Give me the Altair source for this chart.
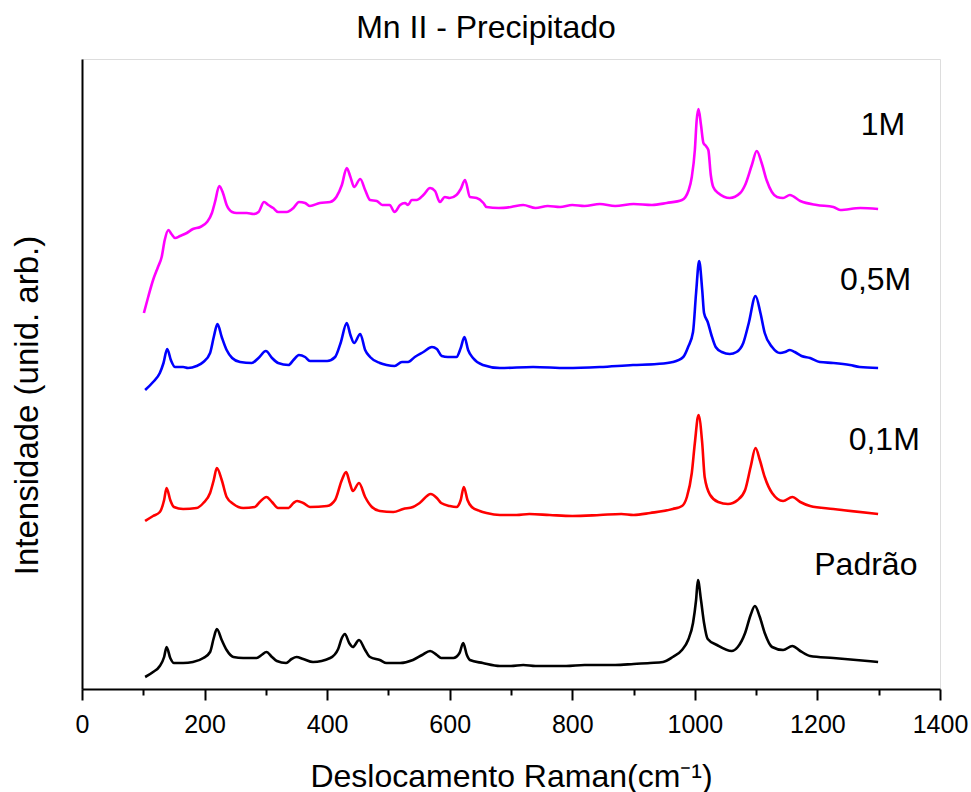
import altair as alt
import pandas as pd

# ---- data (Raman shift in cm-1, intensity in arbitrary units) ----
padrao_x = [103, 116, 127, 134, 138, 144, 150, 165, 181, 198, 209, 215, 220, 228, 236, 247, 263, 285, 293, 301,
            310, 318, 333, 342, 350, 361, 377, 405, 418, 424, 429, 436, 442, 452, 462, 470, 486, 497, 519, 540,
            555, 568, 579, 586, 606, 616, 622, 628, 633, 654, 682, 700, 720, 740, 763, 790, 820, 845, 870, 900,
            927, 948, 964, 979, 989, 997, 1002, 1005, 1010, 1015, 1021, 1036, 1060, 1070, 1082, 1091, 1098, 1106,
            1114, 1126, 1144, 1159, 1172, 1188, 1226, 1299]
padrao_y = [12, 17, 23, 32, 42, 31, 26, 26, 27, 31, 37, 51, 60, 49, 39, 32, 31, 31, 34, 37,
            32, 28, 26, 30, 32, 30, 27, 31, 40, 51, 55, 46, 42, 49, 39, 32, 29, 26, 26, 29,
            34, 38, 34, 31, 31, 36, 46, 34, 29, 26, 23, 23, 24, 23, 23, 23, 24, 24, 24, 25,
            26, 27, 32, 39, 49, 66, 89, 109, 89, 66, 50, 44, 38, 42, 56, 74, 83, 72,
            56, 42, 39, 43, 38, 33, 31, 27]

m01_x = [103, 116, 127, 134, 138, 144, 150, 165, 187, 198, 209, 215, 220, 228, 236, 247, 263, 282, 290, 301,
         310, 320, 337, 345, 351, 361, 372, 400, 413, 424, 431, 437, 442, 452, 462, 473, 486, 508, 524, 540,
         551, 569, 579, 586, 600, 611, 618, 623, 629, 636, 649, 660, 682, 709, 730, 763, 800, 845, 880, 900,
         927, 964, 979, 987, 995, 1000, 1006, 1012, 1016, 1025, 1038, 1054, 1070, 1082, 1091, 1099, 1106, 1114,
         1126, 1144, 1159, 1172, 1188, 1226, 1299]
m01_y = [168, 173, 177, 189, 201, 189, 182, 180, 181, 186, 196, 209, 221, 209, 192, 185, 181, 182, 187, 192,
         187, 181, 181, 186, 188, 186, 182, 183, 189, 209, 217, 206, 198, 206, 192, 182, 178, 177, 180, 182,
         186, 195, 191, 186, 183, 182, 189, 202, 189, 182, 178, 176, 174, 174, 175, 174, 173, 174, 175, 174,
         176, 180, 183, 192, 216, 246, 274, 246, 212, 194, 187, 185, 189, 199, 222, 241, 229, 212,
         196, 188, 192, 187, 183, 180, 175]

m05_x = [103, 116, 127, 133, 139, 145, 152, 165, 173, 187, 198, 209, 215, 221, 228, 236, 245, 258, 277, 288,
         300, 310, 320, 337, 345, 354, 364, 372, 400, 413, 422, 432, 438, 444, 454, 462, 470, 486, 497, 510,
         522, 532, 543, 557, 571, 579, 587, 597, 611, 618, 624, 630, 638, 654, 682, 736, 791, 845, 899, 938,
         964, 981, 989, 997, 1002, 1007, 1012, 1015, 1021, 1027, 1034, 1044, 1057, 1068, 1079, 1088, 1099, 1107,
         1114, 1126, 1139, 1147, 1155, 1163, 1174, 1188, 1204, 1226, 1253, 1269, 1299]
m05_y = [299, 307, 316, 326, 340, 329, 322, 322, 321, 323, 327, 336, 352, 365, 352, 339, 331, 327, 326, 331,
         338, 331, 326, 324, 329, 334, 332, 328, 328, 332, 346, 366, 354, 346, 355, 339, 332, 326, 324, 323,
         327, 327, 332, 337, 342, 340, 333, 332, 332, 341, 352, 339, 331, 324, 321, 322, 321, 322, 324, 325,
         327, 332, 342, 357, 396, 428, 399, 376, 367, 354, 342, 337, 335, 337, 346, 366, 393, 376,
         356, 342, 336, 337, 339, 337, 333, 331, 327, 326, 324, 322, 321]

m1_x = [101, 108, 116, 124, 130, 135, 141, 146, 152, 160, 171, 181, 193, 204, 212, 217, 224, 230, 236, 245,
        252, 269, 280, 288, 297, 304, 312, 320, 334, 345, 354, 364, 372, 388, 405, 415, 424, 432, 438, 444,
        454, 462, 470, 481, 490, 502, 510, 519, 527, 532, 538, 546, 557, 568, 576, 584, 592, 600, 611, 618,
        625, 633, 644, 655, 660, 680, 700, 720, 740, 760, 780, 800, 820, 845, 870, 900, 930, 954, 979, 990,
        995, 1000, 1003, 1006, 1010, 1014, 1018, 1022, 1026, 1030, 1038, 1057, 1074, 1082, 1093, 1101, 1109, 1117,
        1134, 1144, 1155, 1172, 1199, 1226, 1237, 1270, 1299]
m1_y = [376, 392, 409, 422, 432, 449, 459, 455, 451, 453, 456, 460, 462, 467, 476, 487, 503, 496, 484, 477,
        476, 476, 475, 477, 487, 484, 481, 477, 477, 481, 487, 486, 483, 486, 487, 492, 504, 521, 512, 502,
        510, 499, 489, 488, 484, 484, 477, 484, 486, 484, 489, 489, 494, 501, 498, 487, 492, 491, 494, 500,
        509, 492, 491, 486, 482, 481, 482, 484, 481, 483, 482, 484, 483, 485, 483, 485, 484, 486, 489, 499,
        512, 539, 569, 580, 564, 546, 543, 539, 514, 502, 496, 491, 496, 504, 524, 538, 526, 509,
        492, 491, 494, 488, 484, 482, 479, 481, 480]

series_names = ["Padrão", "0,1M", "0,5M", "1M"]
series_colors = ["#000000", "#FF0000", "#0000FF", "#FF00FF"]

label_text = ["1M", "0,5M", "0,1M", "Padrão"]
label_x = [1307, 1295, 1309, 1279]
label_y = [554, 399, 239, 114]

major_ticks = [0, 200, 400, 600, 800, 1000, 1200, 1400]
minor_ticks = [100, 300, 500, 700, 900, 1100, 1300]

# ---- tables ----
frames = []
for name, xs, ys in [("Padrão", padrao_x, padrao_y), ("0,1M", m01_x, m01_y),
                     ("0,5M", m05_x, m05_y), ("1M", m1_x, m1_y)]:
    frames.append(pd.DataFrame({"x": xs, "y": ys, "serie": name}))
df = pd.concat(frames, ignore_index=True)
df_lab = pd.DataFrame({"x": label_x, "y": label_y, "label": label_text})

FONT = "Liberation Sans"
xscale = alt.Scale(domain=[0, 1400], nice=False, zero=False)
yscale = alt.Scale(domain=[0, 630], nice=False, zero=False)

lines = alt.Chart(df).mark_line(strokeWidth=2.6, interpolate="monotone").encode(
    x=alt.X("x:Q", scale=xscale, axis=alt.Axis(
        orient="bottom", values=major_ticks, format="d", grid=False,
        tickSize=11, tickWidth=2, tickColor="black",
        domainWidth=2, domainColor="black",
        labelFont=FONT, labelFontSize=25, labelColor="black",
        labelBaseline="alphabetic", labelPadding=32, labelFlush=False,
        title="Deslocamento Raman(cm⁻¹)", titleFont=FONT, titleFontSize=32,
        titleFontWeight="normal", titleColor="black",
        titleBaseline="alphabetic", titleY=97)),
    y=alt.Y("y:Q", scale=yscale, axis=alt.Axis(
        orient="left", labels=False, ticks=False, grid=False,
        domainWidth=2, domainColor="black",
        title="Intensidade (unid. arb.)", titleFont=FONT, titleFontSize=33,
        titleFontWeight="normal", titleColor="black", titleAngle=270,
        titleBaseline="alphabetic", titleAlign="center", titleX=-45, titleY=346)),
    color=alt.Color("serie:N", scale=alt.Scale(domain=series_names, range=series_colors), legend=None),
    detail="serie:N",
)

minor = alt.Chart(df).mark_line(opacity=0).encode(
    x=alt.X("x:Q", scale=xscale, axis=alt.Axis(
        orient="bottom", values=minor_ticks, labels=False, domain=False, grid=False,
        tickSize=6, tickWidth=2, tickColor="black", title=None)),
    y=alt.Y("y:Q", scale=yscale, axis=None),
    detail="serie:N",
)

labels = alt.Chart(df_lab).mark_text(
    font=FONT, fontSize=32, color="black", align="center", baseline="alphabetic"
).encode(
    x=alt.X("x:Q", scale=xscale, axis=None),
    y=alt.Y("y:Q", scale=yscale, axis=None),
    text="label:N",
)

chart = alt.layer(lines, minor, labels).resolve_axis(
    x="independent", y="independent"
).properties(
    width=858, height=630,
    autosize=alt.AutoSizeParams(type="none"),
    padding={"left": 82, "top": 59, "right": 31, "bottom": 103},
    title=alt.TitleParams(
        "Mn II - Precipitado", font=FONT, fontSize=32, fontWeight="normal", color="black",
        anchor="middle", baseline="alphabetic", offset=-11, dx=-25),
).configure_view(stroke="black", strokeWidth=2).configure(background="white")

chart.save("out.html", embed_options={"renderer": "svg", "actions": False})
